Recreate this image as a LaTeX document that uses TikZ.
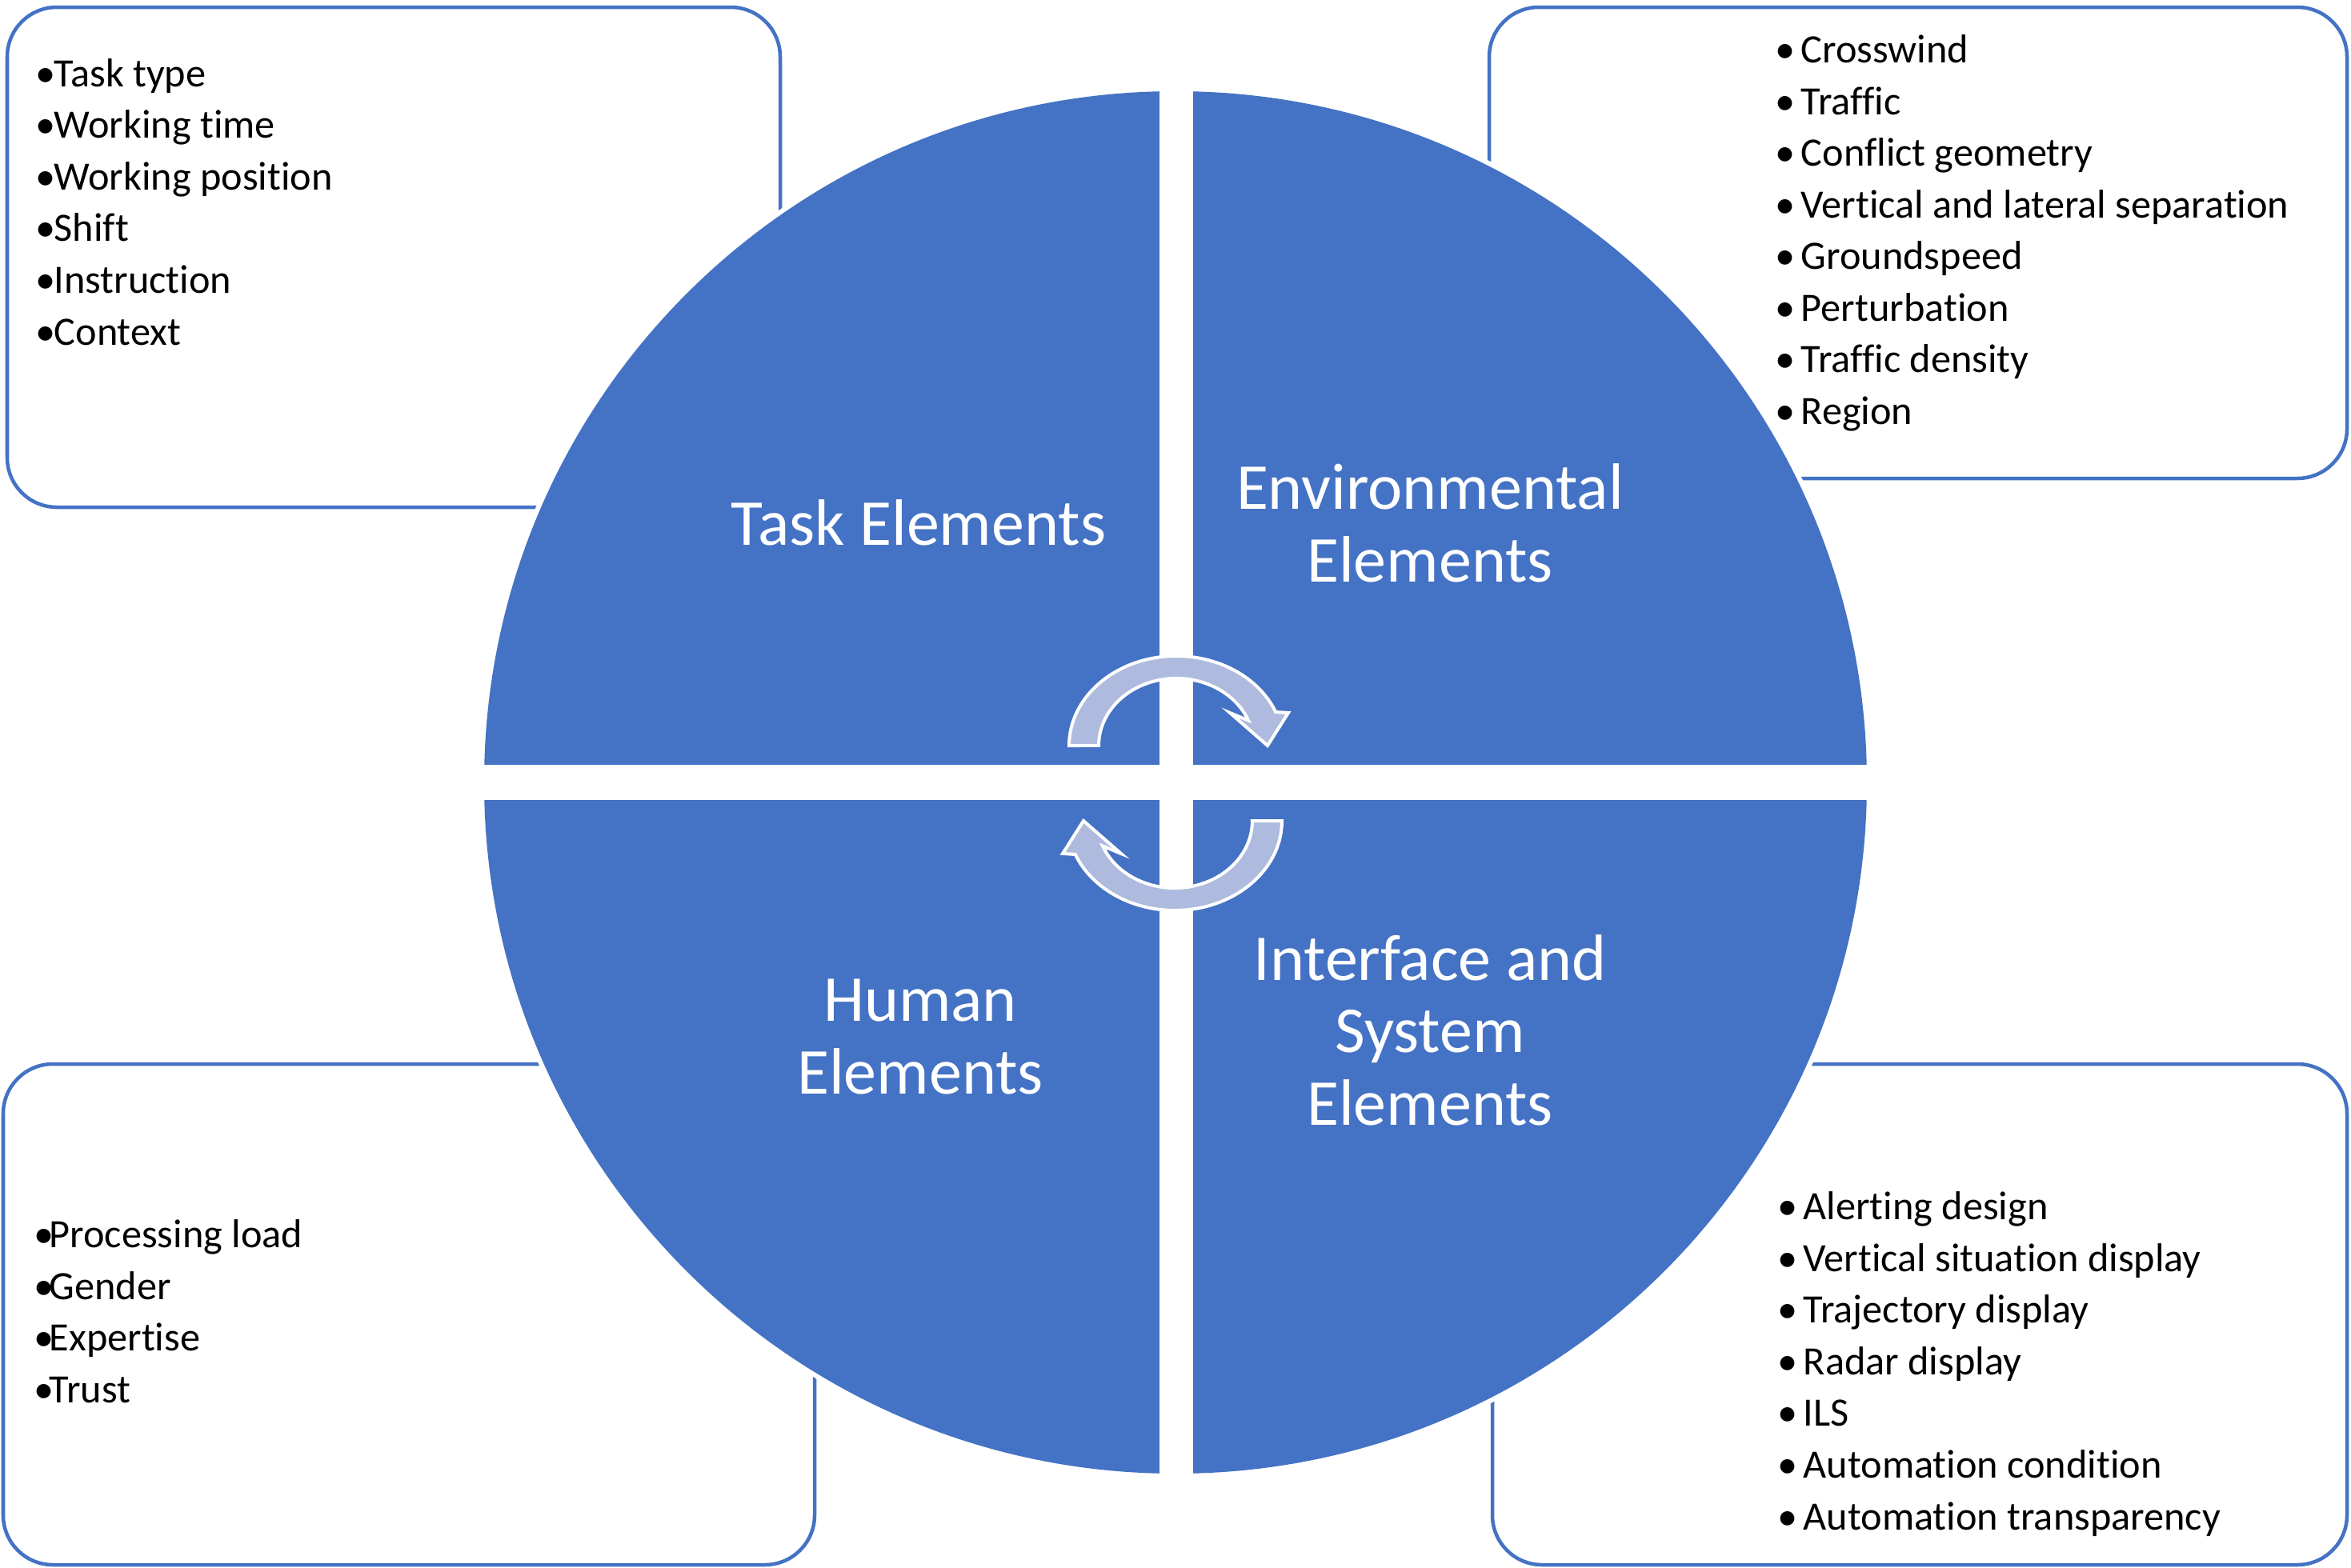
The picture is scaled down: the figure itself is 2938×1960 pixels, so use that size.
\documentclass[tikz,border=0pt]{standalone}
\usepackage{fontspec}
\setmainfont[Ligatures=NoCommon]{Carlito}
\newlength\pxu
\setlength\pxu{0.28453pt}
\definecolor{qblue}{HTML}{4472C4}
\definecolor{arrfill}{RGB}{174,187,222}
\tikzset{
  infobox/.style={draw=qblue, line width=4.5\pxu, fill=white, rounded corners=0.62cm},
  quad/.style={fill=qblue},
  cyclearrow/.style={fill=arrfill, draw=white, line width=4\pxu, line join=miter},
  qlabel/.style={text=white, align=center, inner sep=0pt, anchor=base,
    font=\fontsize{23.3}{25.6}\selectfont},
  itemlist/.style={text=black, align=left, inner sep=0pt, anchor=base west,
    font=\fontsize{14.3}{18.35}\selectfont},
}
\newcommand{\bitem}[2]{\makebox[#1\pxu][l]{•}#2}
\begin{document}
\begin{tikzpicture}[x=0.01cm, y=-0.01cm]
\useasboundingbox (0,0) rectangle (2938,1960);
\fill[white] (0,0) rectangle (2938,1960);

% outer boxes
\draw[infobox] (9,9) rectangle (975,634);
\draw[infobox] (1861,9) rectangle (2933,598);
\draw[infobox] (4,1330) rectangle (1018,1956);
\draw[infobox] (1865,1330) rectangle (2933,1956);

% circle with quadrants
\coordinate (c) at (1469,978);
\fill[white] (c) circle[radius=870];
\fill[quad] (c) circle[radius=864];
\begin{scope}
  \clip (c) circle[radius=870];
  \fill[white] (1449,100) rectangle (1491,1860);
  \fill[white] (590,956) rectangle (2350,1000);
\end{scope}

% cycle arrows
\path[cyclearrow] (1336,932) arc[start angle=180, end angle=338, x radius=134, y radius=112]
  -- (1610,891) -- (1584,932) -- (1537,891) -- (1560,900.5)
  arc[start angle=338, end angle=180, x radius=97, y radius=84] -- cycle;
\begin{scope}[rotate around={180:(1469,979)}]
\path[cyclearrow] (1336,932) arc[start angle=180, end angle=338, x radius=134, y radius=112]
  -- (1610,891) -- (1584,932) -- (1537,891) -- (1560,900.5)
  arc[start angle=338, end angle=180, x radius=97, y radius=84] -- cycle;
\end{scope}

% quadrant labels (anchor = baseline of last line)
\node[qlabel] (task) at (1148,681) {Task Elements};
\node[qlabel] (env) at (1787,727) {Environmental\\Elements};
\node[qlabel] (human) at (1150,1367) {Human\\Elements};
\node[qlabel] (iface) at (1787,1406) {Interface and\\System\\Elements};

% lists (anchor = baseline of last line)
\node[itemlist] (tasklist) at (44,431) {\bitem{23}{Task type}\\\bitem{23}{Working time}\\\bitem{23}{Working position}\\\bitem{23}{Shift}\\\bitem{23}{Instruction}\\\bitem{23}{Context}};
\node[itemlist] (envlist) at (2218,530.5) {\bitem{32}{Crosswind}\\\bitem{32}{Traffic}\\\bitem{32}{Conflict geometry}\\\bitem{32}{Vertical and lateral separation}\\\bitem{32}{Groundspeed}\\\bitem{32}{Perturbation}\\\bitem{32}{Traffic density}\\\bitem{32}{Region}};
\node[itemlist] (humanlist) at (42,1753.5) {\bitem{19}{Processing load}\\\bitem{19}{Gender}\\\bitem{19}{Expertise}\\\bitem{19}{Trust}};
\node[itemlist] (ifacelist) at (2221,1912) {\bitem{32}{Alerting design}\\\bitem{32}{Vertical situation display}\\\bitem{32}{Trajectory display}\\\bitem{32}{Radar display}\\\bitem{32}{ILS}\\\bitem{32}{Automation condition}\\\bitem{32}{Automation transparency}};
\end{tikzpicture}
\end{document}
